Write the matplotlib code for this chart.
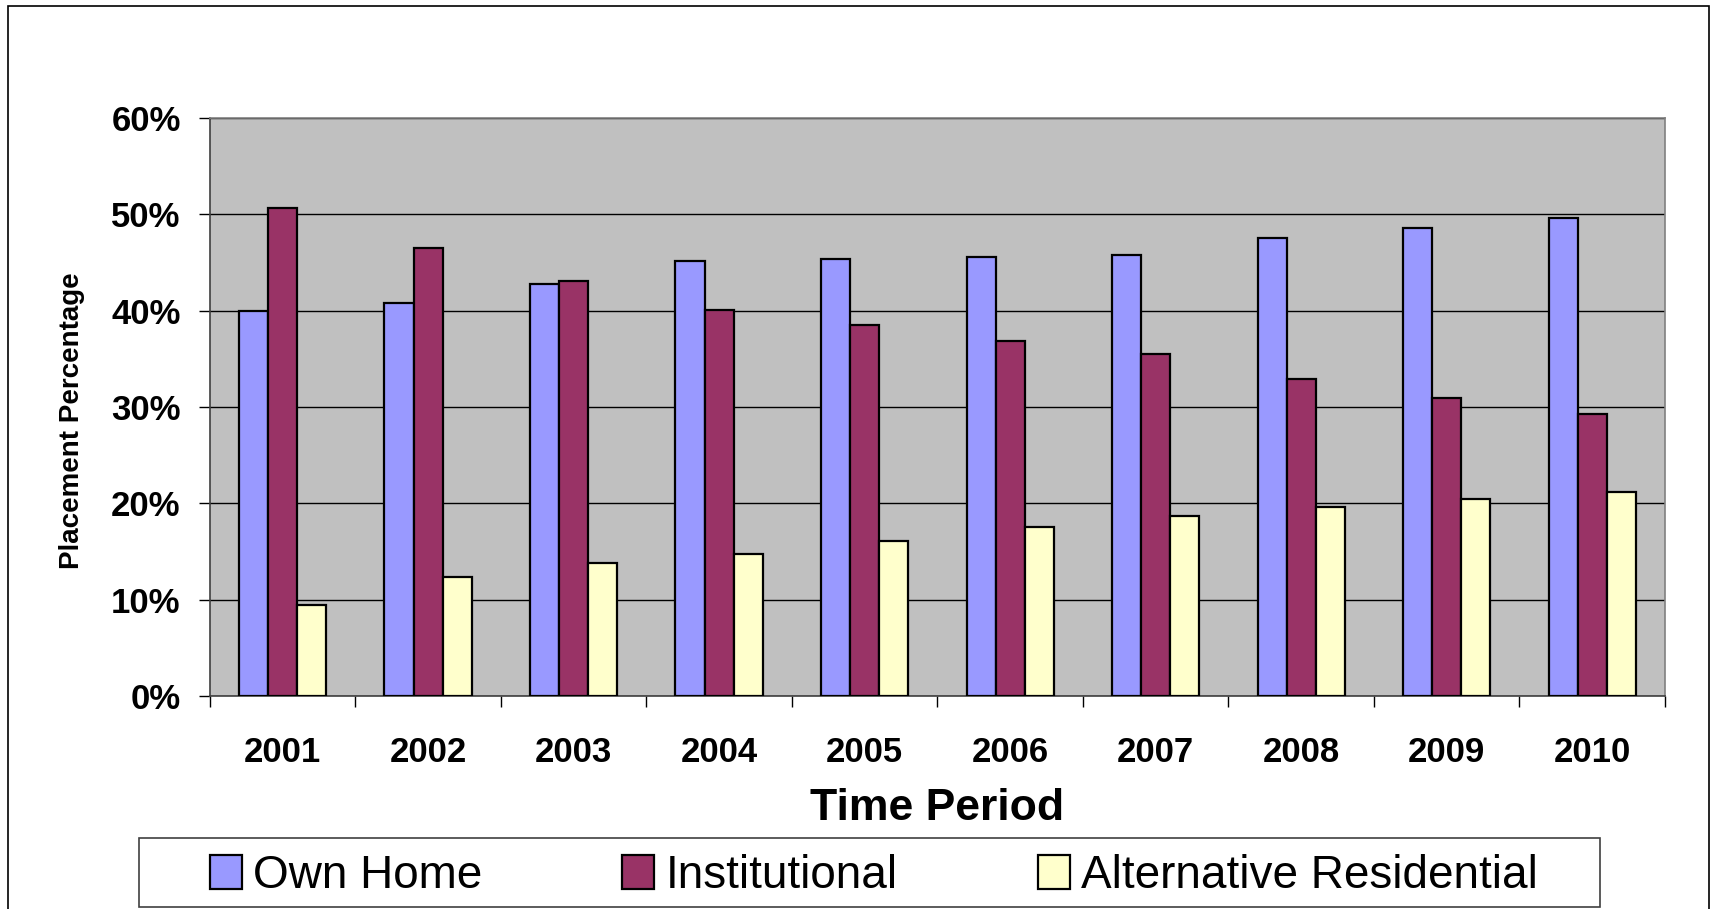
import matplotlib
matplotlib.use("Agg")
import matplotlib.pyplot as plt
import numpy as np
from matplotlib.patches import Rectangle, Patch
from matplotlib.ticker import FixedLocator, PercentFormatter

years = ["2001", "2002", "2003", "2004", "2005", "2006", "2007", "2008", "2009", "2010"]
own_home = [40.0, 40.8, 42.8, 45.2, 45.4, 45.6, 45.8, 47.5, 48.6, 49.6]
institutional = [50.7, 46.5, 43.1, 40.1, 38.5, 36.8, 35.5, 32.9, 30.9, 29.3]
alternative = [9.4, 12.4, 13.8, 14.7, 16.1, 17.5, 18.7, 19.6, 20.5, 21.2]
series_names = ["Own Home", "Institutional", "Alternative Residential"]
series_colors = ["#9999FF", "#993366", "#FFFFCC"]
y_ticks = [0, 10, 20, 30, 40, 50, 60]

plt.rcParams['font.family'] = ['Liberation Sans', 'DejaVu Sans']

W, H = 1713, 909
fig = plt.figure(figsize=(W / 100, H / 100), dpi=100)
fig.patch.set_facecolor("white")

ax = fig.add_axes([209.8 / W, 1 - 696 / H, (1665 - 209.8) / W, (696 - 118) / H])
ax.set_facecolor("#C0C0C0")

x = np.arange(len(years))
bw = 0.2
for i, (vals, col, name) in enumerate(zip([own_home, institutional, alternative], series_colors, series_names)):
    ax.bar(x + (i - 1) * bw, vals, width=bw, color=col, edgecolor="black", linewidth=1.6,
           label=name, zorder=3)

ax.set_xlim(-0.5, len(years) - 0.5)
ax.set_ylim(0, 60)
ax.yaxis.set_major_locator(FixedLocator(y_ticks))
ax.yaxis.set_major_formatter(PercentFormatter(decimals=0))
ax.grid(axis="y", color="black", linewidth=1.0, zorder=1)
ax.set_axisbelow(True)

# x ticks at category boundaries, labels at centres
ax.xaxis.set_major_locator(FixedLocator(np.arange(-0.5, len(years), 1.0)))
ax.set_xticklabels([])
ax.xaxis.set_minor_locator(FixedLocator(x))
ax.set_xticklabels(years, minor=True)
ax.tick_params(axis="x", which="major", direction="out", length=8, width=1, color="black")
ax.tick_params(axis="x", which="minor", length=0, pad=29, labelsize=25)
ax.tick_params(axis="y", direction="out", length=8, width=1, color="black", pad=13, labelsize=25)
for lbl in ax.get_xticklabels(minor=True) + ax.get_yticklabels():
    lbl.set_fontweight("bold")

for side in ["left", "bottom"]:
    ax.spines[side].set_color("#404040")
    ax.spines[side].set_linewidth(1.2)
for side in ["top", "right"]:
    ax.spines[side].set_color("#808080")
    ax.spines[side].set_linewidth(1.2)

ax.set_xlabel("Time Period", fontsize=32, fontweight="bold")
ax.xaxis.set_label_coords(0.5, -(809 - 696) / (696 - 118), transform=ax.transAxes)
ax.xaxis.label.set_va("center")
ax.set_ylabel("Placement Percentage", fontsize=20, fontweight="bold")
ax.yaxis.set_label_coords(-(209.8 - 72) / (1665 - 209.8), (696 - 421) / (696 - 118))
ax.yaxis.label.set_va("center")

# legend box
fig.add_artist(Rectangle((139 / W, 1 - 907 / H), (1600 - 139) / W, (907 - 838) / H,
                         transform=fig.transFigure, facecolor="white", edgecolor="#404040",
                         linewidth=1.2, zorder=1))
handles = [Patch(facecolor=c, edgecolor="black", linewidth=1.6) for c in series_colors]
leg = fig.legend(handles, series_names, ncol=3, loc="center",
                 bbox_to_anchor=(874 / W, 1 - 876 / H),
                 fontsize=33, frameon=False, borderaxespad=0, borderpad=0,
                 handlelength=0.7, handleheight=0.75, handletextpad=0.25,
                 columnspacing=3.05)
leg.set_zorder(2)

# outer chart border
fig.add_artist(Rectangle((7.6 / W, -0.05), (1709 - 7.6) / W, 1.05 - 5.5 / H,
                         transform=fig.transFigure, fill=False, edgecolor="black", linewidth=1.2))

fig.savefig("out.png", dpi=100)
